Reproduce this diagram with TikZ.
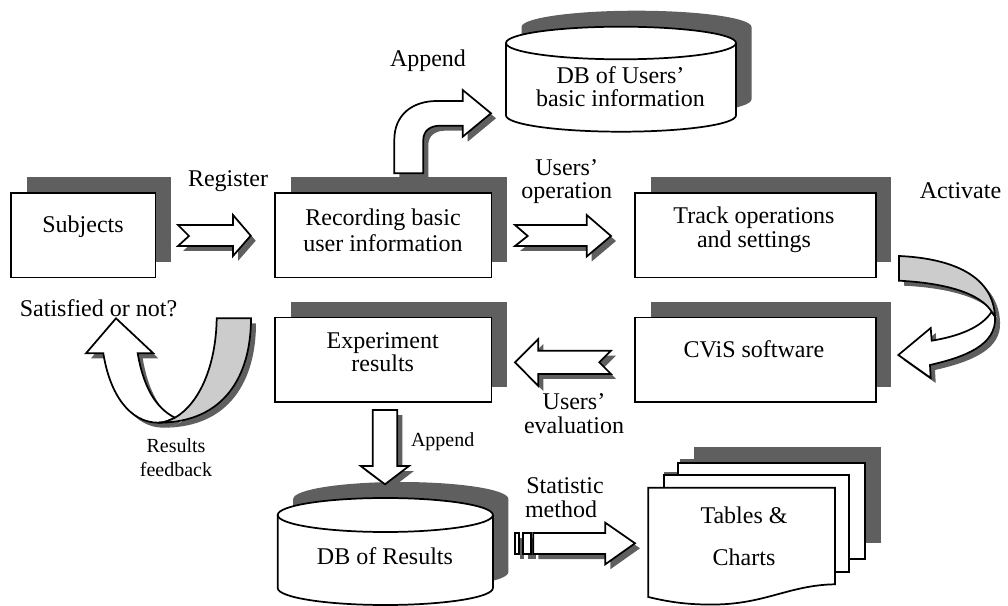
\documentclass[tikz,border=0pt]{standalone}
\usepackage{fontspec}
\setmainfont{Liberation Serif}
\definecolor{shadowc}{HTML}{5F5F5F}
\definecolor{bandc}{HTML}{CCCCCC}
\tikzset{
  lw/.style={line width=1.3pt,line join=miter},
  shadowfill/.style={fill=shadowc,draw=none},
  blockpart/.style={draw=black,fill=white,lw},
  bandpart/.style={draw=black,fill=bandc,lw},
  boxshape/.style={draw=black,fill=white,lw,rectangle,inner sep=0pt,minimum width=#1*0.75pt,minimum height=63.5pt},
  boxshadow/.style={fill=shadowc,rectangle,inner sep=0pt,minimum width=#1*0.75pt,minimum height=63.5pt},
  txt/.style={anchor=base,inner sep=0pt,align=center,font=\fontsize{18}{17.5}\selectfont},
  smalltxt/.style={anchor=base,inner sep=0pt,align=center,font=\fontsize{15}{18}\selectfont},
}
\newcommand{\blockarrow}[1]{\path[shadowfill,shift={(5,5)}] #1; \path[blockpart] #1;}
\newcommand{\flowbox}[4]{%
  \node[boxshadow=#4] (#1s) at (#2+15.5,#3-15.5) {};
  \node[boxshape=#4] (#1) at (#2,#3) {};}
\newcommand{\dbcyl}[6]{% name cx cy rx ry side-height
  \fill[shadowc,shift={(15.5,-16)}] (#2-#4,#3) -- (#2-#4,#3+#6) arc[start angle=180,end angle=0,x radius=#4,y radius=#5] -- (#2+#4,#3) arc[start angle=0,end angle=180,x radius=#4,y radius=-#5] -- cycle;
  \path[blockpart] (#2-#4,#3) -- (#2-#4,#3+#6) arc[start angle=180,end angle=0,x radius=#4,y radius=#5] -- (#2+#4,#3) arc[start angle=0,end angle=180,x radius=#4,y radius=-#5] -- cycle;
  \draw[lw] (#2-#4,#3) arc[start angle=180,end angle=0,x radius=#4,y radius=#5];
  \coordinate (#1) at (#2,#3);}
\begin{document}
\begin{tikzpicture}[x=0.75pt,y=-0.75pt]
\useasboundingbox (0,0) rectangle (1008,606);
% boxes
\flowbox{subj}{83.25}{235.2}{144.5}
\flowbox{rec}{383.25}{235.2}{216.5}
\flowbox{track}{755.4}{235.2}{240.7}
\flowbox{cvis}{755.4}{359.9}{240.7}
\flowbox{expt}{383.25}{359.9}{216.5}
% cylinders
\dbcyl{dbu}{621}{43}{115}{16.3}{72.4}
\dbcyl{dbr}{385.3}{515}{107.6}{17}{73}
% block arrows
\blockarrow{(178,225) -- (189,236) -- (178,246) -- (233,246) -- (233,256) -- (250.7,235.7) -- (233,215) -- (233,225) -- cycle}
\blockarrow{(515,225) -- (527.7,236) -- (515,246) -- (586.7,246) -- (586.7,256.5) -- (611,236) -- (586.7,215) -- (586.7,225) -- cycle}
\blockarrow{(611,350.7) -- (599.3,362.3) -- (611,374) -- (538.3,374) -- (538.3,386) -- (515,362.3) -- (538.3,339) -- (538.3,350.7) -- cycle}
\blockarrow{(372.7,410) -- (397.3,410) -- (397.3,466) -- (409,466) -- (385,484.3) -- (360.7,466) -- (372.7,466) -- cycle}
\blockarrow{(394.3,173.3) -- (394.3,140) .. controls (394.3,115) and (412,101) .. (437,101) -- (462.7,101) -- (462.7,90) -- (491,113.3) -- (462.7,136.7) -- (462.7,125.7) -- (440,125.7) .. controls (430,125.7) and (423.3,131) .. (423.3,140) -- (423.3,173.3) -- cycle}
\blockarrow{(515,533) rectangle (519,554)}
\blockarrow{(522.7,533) rectangle (530.7,554)}
\blockarrow{(533.3,533) -- (605.3,533) -- (605.3,522.7) -- (635,543.3) -- (605.3,564.3) -- (605.3,554) -- (533.3,554) -- cycle}
% activate curved arrow
\fill[shadowc,shift={(5,5)}] (899,256) .. controls (945,258) and (993,272) .. (995,316.7) -- (991.7,311.7) .. controls (980,293) and (945,283) .. (899,280.7) -- cycle;
\fill[shadowc,shift={(5,5)}] (995,316.7) .. controls (997,345) and (965,357) .. (930,365) -- (930.7,378) -- (898.3,355) -- (930.7,328) -- (931.7,340.7) .. controls (960,336) and (982,327) .. (991.7,311.7) -- cycle;
\path[blockpart] (995,316.7) .. controls (997,345) and (965,357) .. (930,365) -- (930.7,378) -- (898.3,355) -- (930.7,328) -- (931.7,340.7) .. controls (960,336) and (982,327) .. (991.7,311.7) -- cycle;
\path[bandpart] (899,256) .. controls (945,258) and (993,272) .. (995,316.7) -- (991.7,311.7) .. controls (980,293) and (945,283) .. (899,280.7) -- cycle;
% satisfied curved arrow
\fill[shadowc,shift={(5,5)}] (216.7,318.3) -- (251,318.3) .. controls (251,375) and (225,422.7) .. (158.3,422.7) .. controls (165,422.7) and (170,420) .. (175,417.7) .. controls (200,403) and (216,365) .. (216.7,318.3) -- cycle;
\fill[shadowc,shift={(5,5)}] (175,417.7) .. controls (155,408) and (143,385) .. (137.7,353.3) -- (153.3,353.3) -- (116,318.3) -- (86,353.3) -- (103.3,353.3) .. controls (110,395) and (130,422.7) .. (158.3,422.7) .. controls (165,422.7) and (170,420) .. (175,417.7) -- cycle;
\path[blockpart] (175,417.7) .. controls (155,408) and (143,385) .. (137.7,353.3) -- (153.3,353.3) -- (116,318.3) -- (86,353.3) -- (103.3,353.3) .. controls (110,395) and (130,422.7) .. (158.3,422.7) .. controls (165,422.7) and (170,420) .. (175,417.7) -- cycle;
\path[bandpart] (216.7,318.3) -- (251,318.3) .. controls (251,375) and (225,422.7) .. (158.3,422.7) .. controls (165,422.7) and (170,420) .. (175,417.7) .. controls (200,403) and (216,365) .. (216.7,318.3) -- cycle;
% document stack
\fill[shadowc] (694.3,447.3) rectangle (881.3,543.3);
\fill[shadowc] (680,459) rectangle (865.3,543.3);
\fill[shadowc] (664,472) rectangle (849.3,556);
\path[blockpart] (678.3,463.3) rectangle (865.3,559.3);
\path[blockpart] (664,475) rectangle (849.3,572.3);
\path[blockpart] (648.3,487.7) -- (835,487.7) -- (835,584.3) .. controls (790,585) and (765,604) .. (715,604.5) .. controls (685,605) and (665,601) .. (648.3,597) -- cycle;
% labels
\node[txt] (tsubj) at (83,232.7) {Subjects};
\node[txt] (treg) at (228,186.7) {Register};
\node[txt] (trec) at (383,252) {Recording basic\\[2.2pt]user information};
\node[txt] (tuop) at (566.7,199) {Users’\\operation};
\node[txt] (ttrack) at (754,247.7) {Track operations\\[1pt]and settings};
\node[txt] (tact) at (960.5,199) {Activate};
\node[txt] (tcvis) at (754,358) {CViS software};
\node[txt] (tueval) at (574,433) {Users’\\evaluation};
\node[txt] (texp) at (382.7,371.7) {Experiment\\results};
\node[txt] (tsat) at (98.5,316) {Satisfied or not?};
\node[smalltxt] (tfb) at (176,476) {Results\\feedback};
\node[smalltxt] (tapp2) at (442.7,446.7) {Append};
\node[txt] (tapp1) at (428,66.7) {Append};
\node[txt] (tdbu) at (620.5,106.7) {DB of Users’\\basic information};
\node[txt] (tdbr) at (385,564) {DB of Results};
\node[txt] (tstat) at (565,493) {Statistic};
\node[txt] (tmeth) at (561,517) {method};
\node[txt] (ttab) at (744,523) {Tables \&};
\node[txt] (tch) at (744,565.7) {Charts};
\end{tikzpicture}
\end{document}
